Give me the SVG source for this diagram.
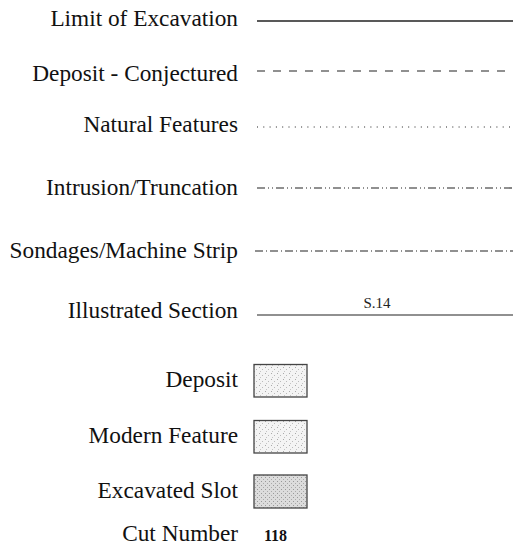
<svg xmlns="http://www.w3.org/2000/svg" width="515" height="559" viewBox="0 0 515 559">
<style>
.lbl{font-family:"Liberation Serif","Times New Roman",serif;font-size:23.3px;fill:#111;text-anchor:end}
.ln{stroke:#222;fill:none}
.box{stroke:#444;stroke-width:1.3}
</style>
<defs>
<pattern id="stip" width="6" height="6" patternUnits="userSpaceOnUse">
<rect width="6" height="6" fill="#f4f4f4"/>
<rect x="1" y="1" width="1" height="1" fill="#aaa"/>
<rect x="4" y="3" width="1" height="1" fill="#bbb"/>
<rect x="2" y="5" width="1" height="1" fill="#c4c4c4"/>
</pattern>
<pattern id="stip2" width="4" height="4" patternUnits="userSpaceOnUse">
<rect width="4" height="4" fill="#dcdcdc"/>
<rect x="1" y="1" width="1" height="1" fill="#999"/>
<rect x="3" y="3" width="1" height="1" fill="#aaa"/>
</pattern>
</defs>
<rect width="515" height="559" fill="#fff"/>
<g id="limit"><text class="lbl" x="238" y="26">Limit of Excavation</text><line class="ln" x1="257" y1="21" x2="513" y2="21" stroke-width="1.5"/></g>
<g id="conjectured"><text class="lbl" x="238" y="81">Deposit - Conjectured</text><line class="ln" x1="257" y1="71" x2="513" y2="71" stroke-width="1.2" stroke-dasharray="8 8"/></g>
<g id="natural"><text class="lbl" x="238" y="132">Natural Features</text><line class="ln" x1="257" y1="127" x2="513" y2="127" stroke-width="1" stroke-dasharray="1 5.3" stroke="#444"/></g>
<g id="intrusion"><text class="lbl" x="238" y="195">Intrusion/Truncation</text><line class="ln" x1="257" y1="188" x2="513" y2="188" stroke-width="1.1" stroke-dasharray="8 3 1 3 1 3"/></g>
<g id="sondages"><text class="lbl" x="238" y="258">Sondages/Machine Strip</text><line class="ln" x1="255" y1="251" x2="513" y2="251" stroke-width="1.1" stroke-dasharray="8 3 1 3"/></g>
<g id="section"><text class="lbl" x="238" y="318">Illustrated Section</text><line class="ln" x1="257" y1="315" x2="513" y2="315" stroke-width="1.2"/><text x="377" y="308" style="font-family:'Liberation Serif','Times New Roman',serif;font-size:15px;fill:#222;text-anchor:middle">S.14</text></g>
<g id="deposit"><text class="lbl" x="238" y="387">Deposit</text><rect class="box" x="254" y="364.5" width="53" height="32.5" fill="url(#stip)"/></g>
<g id="modern"><text class="lbl" x="238" y="443">Modern Feature</text><rect class="box" x="254" y="420.5" width="53" height="32.5" fill="url(#stip)"/></g>
<g id="slot"><text class="lbl" x="238" y="498">Excavated Slot</text><rect class="box" x="254" y="475" width="53" height="33" fill="url(#stip2)"/></g>
<g id="cut"><text class="lbl" x="238" y="541">Cut Number</text><text x="264" y="541" style="font-family:'Liberation Serif','Times New Roman',serif;font-size:16px;font-weight:bold;fill:#111">118</text></g>
</svg>
